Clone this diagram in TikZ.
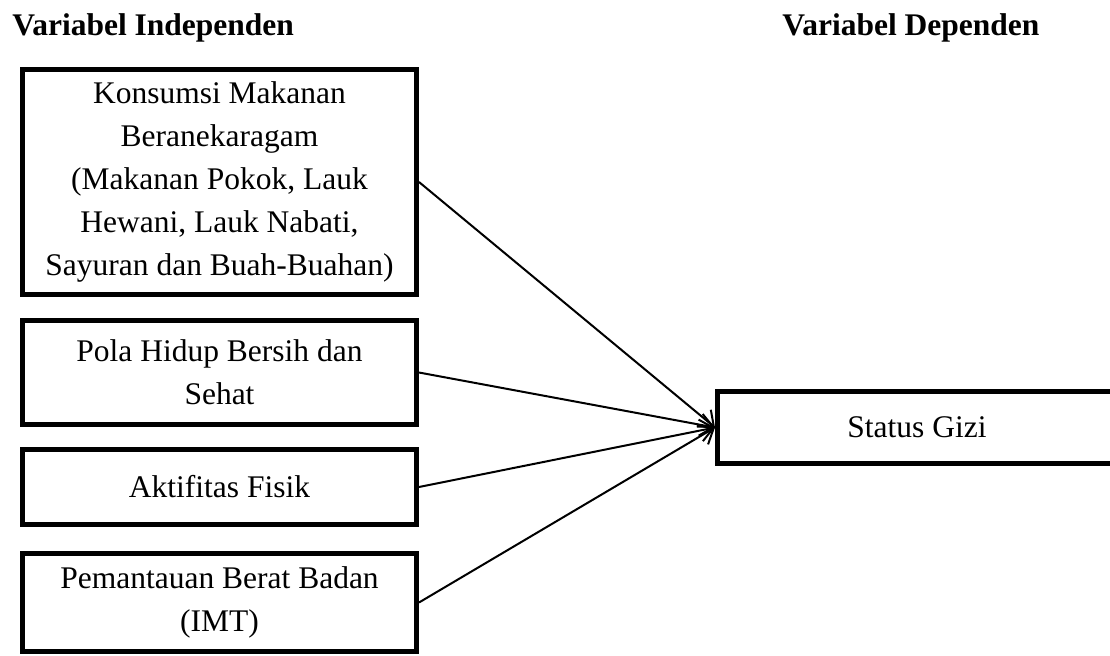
\documentclass[tikz,border=0pt]{standalone}
\usepackage{fontspec}
\setmainfont{Liberation Serif}
\usetikzlibrary{arrows.meta}
\begin{document}
\begin{tikzpicture}[x=0.5pt, y=-0.5pt,
  every node/.style={font=\fontsize{15.75}{21.5}\selectfont},
  judul/.style={anchor=base west, inner sep=0pt, font=\fontsize{15.75}{21.5}\selectfont\bfseries},
  kotak/.style={draw, line width=2.5pt, minimum width=197pt, align=center, inner sep=0pt},
  panah/.style={-{Straight Barb[length=6.5pt,width=11pt]}, line width=1pt}]
  \useasboundingbox (0,0) rectangle (1110,655);

  \node[judul] (indep) at (12,35) {Variabel Independen};
  \node[judul] (dep) at (782,35) {Variabel Dependen};

  \node[kotak, minimum height=112.5pt] (kons) at (219.5,182) {Konsumsi Makanan\\Beranekaragam\\(Makanan Pokok, Lauk\\Hewani, Lauk Nabati,\\Sayuran dan Buah-Buahan)};
  \node[kotak, minimum height=52pt] (pola) at (219.5,372.5) {Pola Hidup Bersih dan\\Sehat};
  \node[kotak, minimum height=37.5pt] (akt) at (219.5,487) {Aktifitas Fisik};
  \node[kotak, minimum height=49pt] (pem) at (219.5,602.5) {Pemantauan Berat Badan\\(IMT)};
  \node[kotak, minimum width=199.5pt, minimum height=36pt] (gizi) at (917,427.5) {Status Gizi};

  \draw[panah] (kons.east) -- (gizi.west);
  \draw[panah] (pola.east) -- (gizi.west);
  \draw[panah] (akt.east) -- (gizi.west);
  \draw[panah] (pem.east) -- (gizi.west);
\end{tikzpicture}
\end{document}
